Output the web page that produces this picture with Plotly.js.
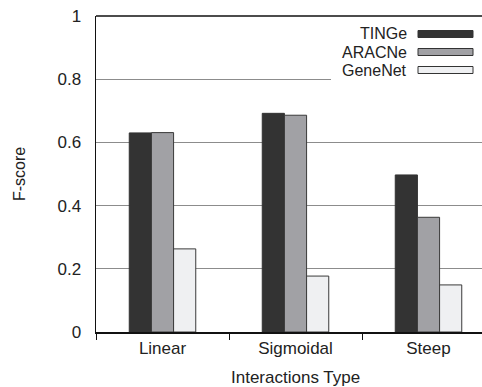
<!DOCTYPE html>
<html>
<head>
<meta charset="utf-8">
<script src="https://cdn.plot.ly/plotly-3.0.1.min.js"></script>
<style>html,body{margin:0;padding:0;background:#fff;}#chart{width:482px;height:387px;}</style>
</head>
<body>
<div id="chart"></div>
<script>
var categories = ["Linear", "Sigmoidal", "Steep"];
var seriesNames = ["TINGe", "ARACNe", "GeneNet"];
var tingeValues = [0.630, 0.692, 0.497];
var aracneValues = [0.631, 0.686, 0.363];
var genenetValues = [0.263, 0.177, 0.149];
var yTickVals = [0, 0.2, 0.4, 0.6, 0.8, 1];
var yTickText = ["0", "0.2", "0.4", "0.6", "0.8", "1"];
var colors = ["#333333", "#a1a1a5", "#eff0f2"];

var FONT = "Liberation Sans, Arial, Helvetica, sans-serif";
var W = 482, H = 387, L = 96, R = 0, T = 16, B = 55;
var pw = W - L - R, ph = H - T - B;
function px2x(p){ return (p - L) / pw; }
function py2y(p){ return (H - B - p) / ph; }

var allValues = [tingeValues, aracneValues, genenetValues];
var traces = seriesNames.map(function(name, i){
  return {
    type: "bar",
    name: name,
    x: categories,
    y: allValues[i],
    marker: {color: colors[i], line: {color: i === 0 ? "#333333" : "#3a3a3a", width: 1}},
    showlegend: false,
    hoverinfo: "x+y+name"
  };
});

// custom legend (text left of swatch, as in reference)
var legendRows = [34, 52, 70];
var shapes = [
  {type: "rect", xref: "paper", yref: "paper", x0: px2x(331), x1: 1, y0: py2y(84), y1: py2y(24),
   fillcolor: "#ffffff", line: {width: 0}, layer: "above"},
  {type: "line", xref: "paper", yref: "paper", x0: 0, x1: 1, y0: 1, y1: 1,
   line: {color: "#111111", width: 1.5}, layer: "above"}
];
var annotations = [];
seriesNames.forEach(function(name, i){
  var cy = legendRows[i];
  shapes.push({type: "rect", xref: "paper", yref: "paper",
    x0: px2x(418), x1: px2x(473), y0: py2y(cy + 3.5), y1: py2y(cy - 3.5),
    fillcolor: colors[i], line: {color: "#333333", width: 1}, layer: "above"});
  annotations.push({xref: "paper", yref: "paper", x: px2x(409), y: py2y(cy),
    xanchor: "right", yanchor: "middle", showarrow: false, text: name,
    font: {family: FONT, size: 16, color: "#222222"}});
});
annotations.push({xref: "x", yref: "paper", x: 1, y: py2y(377), xanchor: "center", yanchor: "middle",
  showarrow: false, text: "Interactions Type", font: {family: FONT, size: 17, color: "#222222"}});

var layout = {
  width: W, height: H,
  margin: {l: L, r: R, t: T, b: B, pad: 0},
  paper_bgcolor: "#ffffff", plot_bgcolor: "#ffffff",
  font: {family: FONT, size: 17, color: "#222222"},
  barmode: "group", bargap: 0.5, bargroupgap: 0,
  xaxis: {
    type: "category", range: [-0.5, -0.5 + pw / 133],
    showline: true, linecolor: "#111111", linewidth: 1.5,
    ticks: "outside", ticklen: 6, tickcolor: "#111111", tickwidth: 1,
    tickson: "boundaries", showgrid: false, zeroline: false,
    tickfont: {family: FONT, size: 17, color: "#222222"},
    fixedrange: true
  },
  yaxis: {
    range: [0, 1], tickvals: yTickVals, ticktext: yTickText,
    showline: true, linecolor: "#111111", linewidth: 1.5,
    ticks: "", showgrid: true, gridcolor: "#8c8c8c", gridwidth: 1, zeroline: false,
    ticklabelstandoff: 10,
    tickfont: {family: FONT, size: 17, color: "#222222"},
    title: {text: "F-score", standoff: 28, font: {family: FONT, size: 16, color: "#222222"}},
    fixedrange: true
  },
  shapes: shapes,
  annotations: annotations,
  showlegend: false
};

Plotly.newPlot("chart", traces, layout, {displayModeBar: false, staticPlot: true});
</script>
</body>
</html>
